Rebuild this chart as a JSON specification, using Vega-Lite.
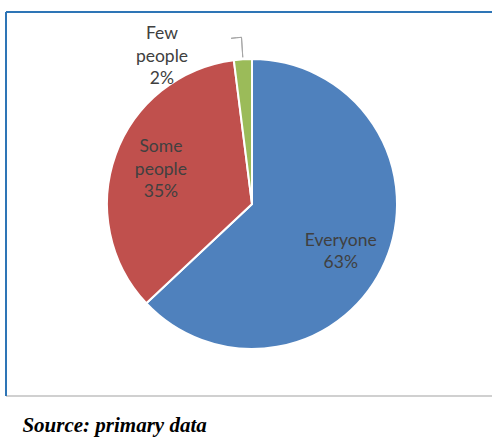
{
  "$schema": "https://vega.github.io/schema/vega-lite/v6.json",
  "width": 492,
  "height": 384,
  "autosize": "none",
  "padding": {"left": 6, "top": 12, "right": 0, "bottom": 44},
  "background": "white",
  "view": {"stroke": "transparent"},
  "config": {"view": {"stroke": "transparent"}},
  "title": {
    "text": "Source: primary data",
    "orient": "bottom",
    "anchor": "start",
    "dx": 27,
    "offset": 18,
    "font": "Liberation Serif",
    "fontSize": 21,
    "fontWeight": "bold",
    "fontStyle": "italic",
    "color": "#000000"
  },
  "data": {
    "values": [
      {"category": "Everyone", "percent": 63, "rank": 1},
      {"category": "Some people", "percent": 35, "rank": 2},
      {"category": "Few people", "percent": 2, "rank": 3}
    ]
  },
  "layer": [
    {
      "data": {"values": [{"line": "divider"}]},
      "mark": {"type": "rule", "color": "#D0D0D0", "strokeWidth": 2},
      "encoding": {"y": {"value": "height"}}
    },
    {
      "data": {"values": [{"line": "top"}]},
      "mark": {"type": "rule", "color": "#2E75B6", "strokeWidth": 2},
      "encoding": {"y": {"value": 0}}
    },
    {
      "data": {"values": [{"line": "left"}]},
      "mark": {"type": "rule", "color": "#2E75B6", "strokeWidth": 2},
      "encoding": {"x": {"value": 0}}
    },
    {
      "mark": {"type": "arc", "outerRadius": 145, "stroke": "white", "strokeWidth": 2},
      "encoding": {
        "theta": {"field": "percent", "type": "quantitative", "stack": true},
        "order": {"field": "rank", "type": "quantitative"},
        "color": {
          "field": "category",
          "type": "nominal",
          "scale": {"domain": ["Everyone", "Some people", "Few people"], "range": ["#4F81BD", "#C0504D", "#9BBB59"]},
          "legend": null
        }
      }
    },
    {
      "transform": [
        {"calculate": "split(datum.category, ' ')", "as": "words"},
        {"calculate": "datum.category === 'Everyone' ? ['Everyone', datum.percent + '%'] : [datum.words[0], datum.words[1], datum.percent + '%']", "as": "label"}
      ],
      "mark": {"type": "text", "radius": 100, "dx": -3, "dy": -3, "font": "Lato", "fontSize": 17.5, "lineHeight": 22.5, "color": "#404040", "align": "center", "baseline": "middle"},
      "encoding": {
        "theta": {"field": "percent", "type": "quantitative", "stack": true},
        "order": {"field": "rank", "type": "quantitative"},
        "text": {"field": "label"},
        "opacity": {"condition": {"test": "datum.category === 'Everyone'", "value": 1}, "value": 0}
      }
    },
    {
      "transform": [
        {"calculate": "split(datum.category, ' ')", "as": "words"},
        {"calculate": "datum.category === 'Everyone' ? ['Everyone', datum.percent + '%'] : [datum.words[0], datum.words[1], datum.percent + '%']", "as": "label"}
      ],
      "mark": {"type": "text", "radius": 100, "dx": 3, "dy": -23, "font": "Lato", "fontSize": 17.5, "lineHeight": 22.5, "color": "#404040", "align": "center", "baseline": "middle"},
      "encoding": {
        "theta": {"field": "percent", "type": "quantitative", "stack": true},
        "order": {"field": "rank", "type": "quantitative"},
        "text": {"field": "label"},
        "opacity": {"condition": {"test": "datum.category === 'Some people'", "value": 1}, "value": 0}
      }
    },
    {
      "transform": [
        {"calculate": "split(datum.category, ' ')", "as": "words"},
        {"calculate": "datum.category === 'Everyone' ? ['Everyone', datum.percent + '%'] : [datum.words[0], datum.words[1], datum.percent + '%']", "as": "label"}
      ],
      "mark": {"type": "text", "radius": 160, "dx": -80, "dy": -10, "font": "Lato", "fontSize": 17.5, "lineHeight": 22.5, "color": "#404040", "align": "center", "baseline": "middle"},
      "encoding": {
        "theta": {"field": "percent", "type": "quantitative", "stack": true},
        "order": {"field": "rank", "type": "quantitative"},
        "text": {"field": "label"},
        "opacity": {"condition": {"test": "datum.category === 'Few people'", "value": 1}, "value": 0}
      }
    },
    {
      "mark": {"type": "arc", "innerRadius": 147, "outerRadius": 167, "padAngle": 1, "fill": "#A6A6A6", "stroke": "#A6A6A6", "strokeWidth": 1},
      "encoding": {
        "theta": {"field": "percent", "type": "quantitative", "stack": true},
        "order": {"field": "rank", "type": "quantitative"},
        "opacity": {"condition": {"test": "datum.category === 'Few people'", "value": 1}, "value": 0}
      }
    },
    {
      "transform": [
        {"stack": "percent", "groupby": [], "sort": [{"field": "rank", "order": "ascending"}], "as": ["t0", "t1"]}
      ],
      "mark": {"type": "arc", "innerRadius": 167, "outerRadius": 167, "theta2Offset": -0.0628, "fill": "#A6A6A6", "stroke": "#A6A6A6", "strokeWidth": 1},
      "encoding": {
        "theta": {"field": "t0", "type": "quantitative"},
        "theta2": {"field": "t1"},
        "opacity": {"condition": {"test": "datum.category === 'Few people'", "value": 1}, "value": 0}
      }
    }
  ]
}
